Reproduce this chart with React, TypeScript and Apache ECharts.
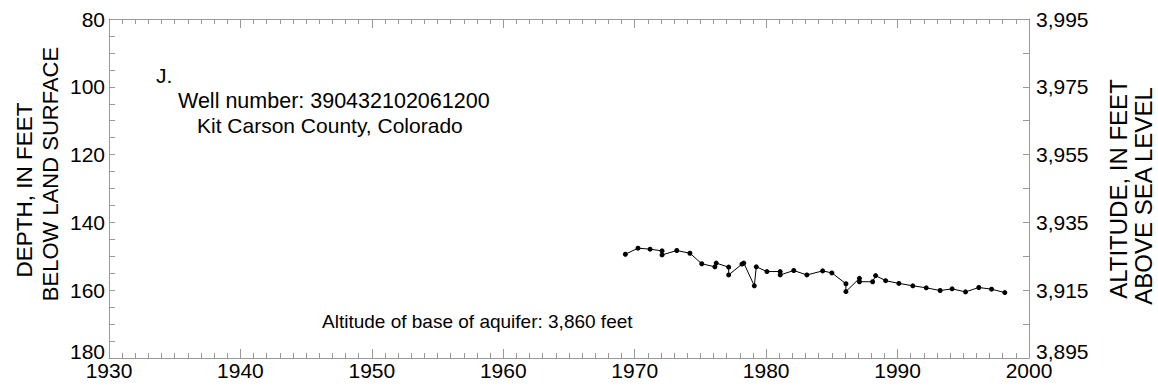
import React, { useEffect, useRef } from "react";
import * as echarts from "echarts";

const years = [
  1969.29, 1970.25, 1971.17, 1972.08, 1972.08, 1973.2, 1974.2, 1975.1, 1976.1, 1976.2,
  1977.15, 1977.15, 1978.16, 1978.3, 1979.1, 1979.25, 1980.06, 1981.07, 1981.07, 1982.1,
  1983.1, 1984.3, 1985.0, 1986.07, 1986.07, 1987.1, 1987.1, 1988.1, 1988.33, 1989.09,
  1990.1, 1991.16, 1992.18, 1993.24, 1994.15, 1995.17, 1996.18, 1997.15, 1998.16,
];
const depths = [
  149.4, 147.6, 147.9, 148.4, 149.6, 148.3, 149.1, 152.2, 153.1, 152.0,
  153.2, 155.5, 152.3, 152.0, 158.7, 153.1, 154.5, 154.5, 155.5, 154.2,
  155.5, 154.3, 154.9, 158.1, 160.4, 156.5, 157.5, 157.5, 155.7, 157.2,
  158.0, 158.7, 159.3, 160.1, 159.6, 160.5, 159.2, 159.7, 160.7,
];

const FONT = "Liberation Sans, Arial, sans-serif";
const AXIS_GRAY = "#999999";
const LAND_SURFACE_ALT = 4075;

export default function App() {
  const ref = useRef<HTMLDivElement>(null);
  useEffect(() => {
    if (!ref.current) return;
    const chart = echarts.init(ref.current, undefined, { renderer: "svg" });
    const fs = 21;
    const data = years.map((y, i) => [y, depths[i]]);
    const lineStyle = { color: AXIS_GRAY, width: 1 };
    const txt = (x: number, y: number, text: string, size: number, rot = 0, align = "left") => ({
      type: "text",
      x,
      y,
      rotation: rot,
      style: {
        text,
        fontSize: size,
        fontFamily: FONT,
        fill: "#000",
        align,
        verticalAlign: "middle",
      },
    });
    const yLabel = {
      color: "#000",
      fontSize: fs,
      fontFamily: FONT,
      lineHeight: 14,
      verticalAlignMaxLabel: "bottom",
    };
    chart.setOption({
      animation: false,
      backgroundColor: "#ffffff",
      grid: { left: 109, right: 129, top: 19, bottom: 32, containLabel: false },
      xAxis: [
        {
          type: "value",
          position: "bottom",
          min: 1930,
          max: 2000,
          interval: 10,
          axisLine: { show: true, lineStyle },
          axisTick: { show: true, inside: true, length: 9, lineStyle },
          minorTick: { show: true, splitNumber: 10, length: 5, lineStyle },
          splitLine: { show: false },
          axisLabel: {
            color: "#000",
            fontSize: fs,
            fontFamily: FONT,
            lineHeight: 14,
            margin: 5,
            formatter: (v: number) => String(v),
          },
        },
        {
          type: "value",
          position: "top",
          min: 1930,
          max: 2000,
          interval: 10,
          axisLine: { show: true, lineStyle },
          axisTick: { show: true, inside: true, length: 9, lineStyle },
          minorTick: { show: true, splitNumber: 10, length: 5, lineStyle },
          splitLine: { show: false },
          axisLabel: { show: false },
        },
      ],
      yAxis: [
        {
          type: "value",
          position: "left",
          inverse: true,
          min: 80,
          max: 180,
          interval: 20,
          axisLine: { show: true, lineStyle },
          axisTick: { show: true, inside: true, length: 6, lineStyle },
          minorTick: { show: true, splitNumber: 4, length: 6, lineStyle },
          splitLine: { show: false },
          axisLabel: { ...yLabel, margin: 4 },
        },
        {
          type: "value",
          position: "right",
          inverse: true,
          min: 80,
          max: 180,
          interval: 20,
          axisLine: { show: true, lineStyle },
          axisTick: { show: true, inside: true, length: 6, lineStyle },
          minorTick: { show: true, splitNumber: 2, length: 6, lineStyle },
          splitLine: { show: false },
          axisLabel: {
            ...yLabel,
            margin: 7,
            formatter: (v: number) => (LAND_SURFACE_ALT - v).toLocaleString("en-US"),
          },
        },
      ],
      series: [
        {
          type: "line",
          xAxisIndex: 0,
          yAxisIndex: 0,
          data,
          symbol: "circle",
          symbolSize: 5,
          itemStyle: { color: "#000" },
          lineStyle: { color: "#000", width: 1 },
        },
      ],
      graphic: [
        txt(24, 190, "DEPTH, IN FEET", 22.5, Math.PI / 2, "center"),
        txt(50, 174, "BELOW LAND SURFACE", 22, Math.PI / 2, "center"),
        txt(1118, 189, "ALTITUDE, IN FEET", 24, Math.PI / 2, "center"),
        txt(1143, 196, "ABOVE SEA LEVEL", 24, Math.PI / 2, "center"),
        txt(156, 75, "J.", fs),
        txt(178, 101, "Well number: 390432102061200", 21.5),
        txt(197, 125, "Kit Carson County, Colorado", 21),
        txt(322, 321, "Altitude of base of aquifer: 3,860 feet", 19),
      ],
    });
    return () => chart.dispose();
  }, []);
  return (
    <div
      ref={ref}
      style={{ position: "fixed", left: 0, top: 0, width: 1158, height: 390, background: "#fff" }}
    />
  );
}
